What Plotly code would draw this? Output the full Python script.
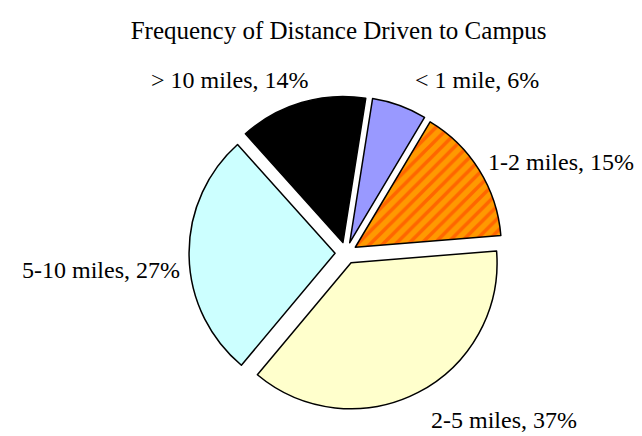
import plotly.graph_objects as go

labels = ["< 1 mile", "1-2 miles", "2-5 miles", "5-10 miles", "> 10 miles"]
values = [6, 15, 37, 27, 14]
colors = ["#9999ff", "#ff9900", "#ffffcc", "#ccffff", "#000000"]
texts = [f"{l}, {v}%" for l, v in zip(labels, values)]

# label anchor positions (pixels in the 642x436 canvas), layout only
label_px = [(469, 72), (553, 154), (496, 412), (93, 262), (222, 72)]
W, H = 642, 436

fig = go.Figure(go.Pie(
    labels=labels,
    values=values,
    text=texts,
    textinfo="none",
    textposition="none",
    sort=False,
    direction="clockwise",
    rotation=9,
    pull=0.075,
    marker=dict(
        colors=colors,
        line=dict(color="black", width=1.5),
        pattern=dict(shape=["", "/", "", "", ""], fgcolor="#ff6600",
                     bgcolor=colors, size=9, solidity=0.4),
    ),
    domain=dict(x=[0.053, 1.0], y=[0.078, 0.798]),
    showlegend=False,
    hoverinfo="label+percent",
))

for t, (px, py) in zip(texts, label_px):
    fig.add_annotation(
        text=t, x=px / W, y=1 - py / H, xref="paper", yref="paper",
        xanchor="center", yanchor="middle", showarrow=False,
        font=dict(family="Liberation Serif", size=24, color="black"),
    )

fig.update_layout(
    width=W, height=H,
    margin=dict(l=0, r=0, t=0, b=0),
    paper_bgcolor="white",
    title=dict(text="Frequency of Distance Driven to Campus", x=0.515, y=0.95,
               xanchor="center", yanchor="middle",
               font=dict(family="Liberation Serif", size=25, color="black")),
)

fig.write_html("out.html")
